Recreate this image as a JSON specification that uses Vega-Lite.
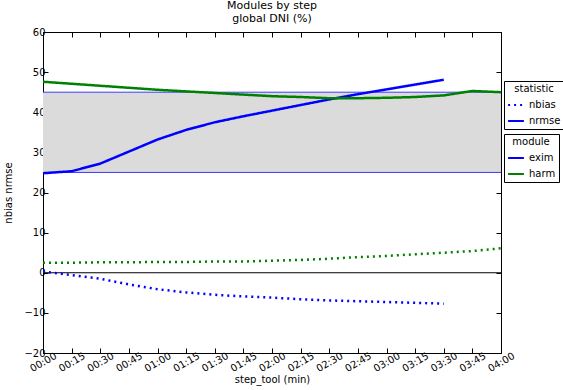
{
  "$schema": "https://vega.github.io/schema/vega-lite/v6.json",
  "autosize": "none",
  "width": 458,
  "height": 321,
  "padding": {"left": 43, "top": 32, "right": 62, "bottom": 37},
  "background": "white",
  "config": {
    "font": "DejaVu Sans",
    "view": {"stroke": "black", "strokeWidth": 1},
    "axis": {"grid": false, "domainColor": "black", "tickColor": "black", "labelColor": "black", "titleColor": "black", "labelFont": "DejaVu Sans", "titleFont": "DejaVu Sans", "labelFontSize": 10, "titleFontSize": 10, "titleFontWeight": "normal", "tickSize": -5, "labelOverlap": false, "labelFlush": false},
    "legend": {"labelFont": "DejaVu Sans", "titleFont": "DejaVu Sans", "labelFontSize": 10, "titleFontSize": 10, "titleFontWeight": "normal", "labelColor": "black", "titleColor": "black"}
  },
  "title": {"text": ["Modules by step", " global DNI (%)"], "fontSize": 11, "fontWeight": "normal", "font": "DejaVu Sans", "color": "black", "offset": 3, "anchor": "middle", "lineHeight": 13},
  "datasets": {
    "series": [
      {"minute": 0, "module": "exim", "statistic": "nrmse", "value": 24.8},
      {"minute": 15, "module": "exim", "statistic": "nrmse", "value": 25.3},
      {"minute": 30, "module": "exim", "statistic": "nrmse", "value": 27.2},
      {"minute": 45, "module": "exim", "statistic": "nrmse", "value": 30.2},
      {"minute": 60, "module": "exim", "statistic": "nrmse", "value": 33.2},
      {"minute": 75, "module": "exim", "statistic": "nrmse", "value": 35.6},
      {"minute": 90, "module": "exim", "statistic": "nrmse", "value": 37.5},
      {"minute": 105, "module": "exim", "statistic": "nrmse", "value": 39.0},
      {"minute": 120, "module": "exim", "statistic": "nrmse", "value": 40.4},
      {"minute": 135, "module": "exim", "statistic": "nrmse", "value": 41.8},
      {"minute": 150, "module": "exim", "statistic": "nrmse", "value": 43.2},
      {"minute": 165, "module": "exim", "statistic": "nrmse", "value": 44.5},
      {"minute": 180, "module": "exim", "statistic": "nrmse", "value": 45.7},
      {"minute": 195, "module": "exim", "statistic": "nrmse", "value": 46.9},
      {"minute": 210, "module": "exim", "statistic": "nrmse", "value": 48.1},
      {"minute": 0, "module": "harm", "statistic": "nrmse", "value": 47.6},
      {"minute": 15, "module": "harm", "statistic": "nrmse", "value": 47.1},
      {"minute": 30, "module": "harm", "statistic": "nrmse", "value": 46.6},
      {"minute": 45, "module": "harm", "statistic": "nrmse", "value": 46.1},
      {"minute": 60, "module": "harm", "statistic": "nrmse", "value": 45.6},
      {"minute": 75, "module": "harm", "statistic": "nrmse", "value": 45.2},
      {"minute": 90, "module": "harm", "statistic": "nrmse", "value": 44.8},
      {"minute": 105, "module": "harm", "statistic": "nrmse", "value": 44.4},
      {"minute": 120, "module": "harm", "statistic": "nrmse", "value": 44.0},
      {"minute": 135, "module": "harm", "statistic": "nrmse", "value": 43.8},
      {"minute": 150, "module": "harm", "statistic": "nrmse", "value": 43.5},
      {"minute": 165, "module": "harm", "statistic": "nrmse", "value": 43.5},
      {"minute": 180, "module": "harm", "statistic": "nrmse", "value": 43.6},
      {"minute": 195, "module": "harm", "statistic": "nrmse", "value": 43.8},
      {"minute": 210, "module": "harm", "statistic": "nrmse", "value": 44.2},
      {"minute": 225, "module": "harm", "statistic": "nrmse", "value": 45.3},
      {"minute": 240, "module": "harm", "statistic": "nrmse", "value": 45.0},
      {"minute": 0, "module": "exim", "statistic": "nbias", "value": 0.3},
      {"minute": 15, "module": "exim", "statistic": "nbias", "value": -0.6},
      {"minute": 30, "module": "exim", "statistic": "nbias", "value": -1.5},
      {"minute": 45, "module": "exim", "statistic": "nbias", "value": -2.9},
      {"minute": 60, "module": "exim", "statistic": "nbias", "value": -4.1},
      {"minute": 75, "module": "exim", "statistic": "nbias", "value": -4.9},
      {"minute": 90, "module": "exim", "statistic": "nbias", "value": -5.5},
      {"minute": 105, "module": "exim", "statistic": "nbias", "value": -5.9},
      {"minute": 120, "module": "exim", "statistic": "nbias", "value": -6.2},
      {"minute": 135, "module": "exim", "statistic": "nbias", "value": -6.6},
      {"minute": 150, "module": "exim", "statistic": "nbias", "value": -6.9},
      {"minute": 165, "module": "exim", "statistic": "nbias", "value": -7.1},
      {"minute": 180, "module": "exim", "statistic": "nbias", "value": -7.3},
      {"minute": 195, "module": "exim", "statistic": "nbias", "value": -7.5},
      {"minute": 210, "module": "exim", "statistic": "nbias", "value": -7.7},
      {"minute": 0, "module": "harm", "statistic": "nbias", "value": 2.5},
      {"minute": 15, "module": "harm", "statistic": "nbias", "value": 2.5},
      {"minute": 30, "module": "harm", "statistic": "nbias", "value": 2.6},
      {"minute": 45, "module": "harm", "statistic": "nbias", "value": 2.6},
      {"minute": 60, "module": "harm", "statistic": "nbias", "value": 2.7},
      {"minute": 75, "module": "harm", "statistic": "nbias", "value": 2.7},
      {"minute": 90, "module": "harm", "statistic": "nbias", "value": 2.8},
      {"minute": 105, "module": "harm", "statistic": "nbias", "value": 2.8},
      {"minute": 120, "module": "harm", "statistic": "nbias", "value": 3.0},
      {"minute": 135, "module": "harm", "statistic": "nbias", "value": 3.2},
      {"minute": 150, "module": "harm", "statistic": "nbias", "value": 3.5},
      {"minute": 165, "module": "harm", "statistic": "nbias", "value": 3.9},
      {"minute": 180, "module": "harm", "statistic": "nbias", "value": 4.2},
      {"minute": 195, "module": "harm", "statistic": "nbias", "value": 4.6},
      {"minute": 210, "module": "harm", "statistic": "nbias", "value": 5.0},
      {"minute": 225, "module": "harm", "statistic": "nbias", "value": 5.4},
      {"minute": 240, "module": "harm", "statistic": "nbias", "value": 6.1}
    ],
    "band": [{"lo": 25, "hi": 45}],
    "bounds": [{"v": 25}, {"v": 45}],
    "zero": [{"v": 0}]
  },
  "layer": [
    {
      "data": {"name": "band"},
      "mark": {"type": "rect", "fill": "#dbdbdb"},
      "encoding": {
        "y": {"field": "lo", "type": "quantitative", "scale": {"domain": [-20, 60], "nice": false}, "axis": {"orient": "left", "values": [-20, -10, 0, 10, 20, 30, 40, 50, 60], "title": "nbias nrmse", "titlePadding": 10, "labelPadding": 3}},
        "y2": {"field": "hi"}
      }
    },
    {
      "data": {"name": "bounds"},
      "mark": {"type": "rule", "color": "#3a3aff", "strokeWidth": 1},
      "encoding": {"y": {"field": "v", "type": "quantitative", "axis": null}}
    },
    {
      "data": {"name": "zero"},
      "mark": {"type": "rule", "color": "black", "strokeWidth": 1},
      "encoding": {"y": {"field": "v", "type": "quantitative", "axis": null}}
    },
    {
      "data": {"name": "series"},
      "mark": {"type": "line", "strokeWidth": 2.5, "clip": true},
      "encoding": {
        "x": {"field": "minute", "type": "quantitative", "scale": {"domain": [0, 240], "nice": false, "zero": false},
          "axis": {"orient": "bottom", "values": [0, 15, 30, 45, 60, 75, 90, 105, 120, 135, 150, 165, 180, 195, 210, 225, 240],
            "labelExpr": "pad(floor(datum.value/60), 2, '0', 'left') + ':' + pad(datum.value % 60, 2, '0', 'left')",
            "labelAngle": -30, "labelAlign": "center", "labelBaseline": "middle", "labelPadding": 14, "title": "step_tool (min)", "titlePadding": 1}},
        "y": {"field": "value", "type": "quantitative", "axis": null},
        "color": {"field": "module", "type": "nominal", "scale": {"domain": ["exim", "harm"], "range": ["#0000ff", "#008000"]},
          "legend": {"orient": "none", "legendX": 461, "legendY": 102, "title": "module", "titleAnchor": "middle", "symbolType": "stroke", "symbolStrokeWidth": 2, "symbolSize": 250, "strokeColor": "black", "fillColor": "white", "padding": 3, "rowPadding": 2, "titlePadding": 2}},
        "strokeDash": {"field": "statistic", "type": "nominal", "scale": {"domain": ["nbias", "nrmse"], "range": [[2, 4], [1, 0]]},
          "legend": {"orient": "none", "legendX": 461, "legendY": 49, "title": "statistic", "titleAnchor": "middle", "symbolStrokeColor": "#0000ff", "symbolStrokeWidth": 2, "symbolType": "stroke", "symbolSize": 250, "strokeColor": "black", "fillColor": "white", "padding": 3, "rowPadding": 2, "titlePadding": 2}},
        "detail": {"field": "module"}
      }
    },
    {
      "data": {"name": "zero"},
      "mark": {"type": "rule", "opacity": 0},
      "encoding": {
        "y": {"field": "v", "type": "quantitative", "axis": {"orient": "right", "labels": false, "title": null, "values": [-20, -10, 0, 10, 20, 30, 40, 50, 60], "domain": false, "tickSize": -5}},
        "x": {"datum": 0, "type": "quantitative", "axis": {"orient": "top", "labels": false, "title": null, "values": [0, 15, 30, 45, 60, 75, 90, 105, 120, 135, 150, 165, 180, 195, 210, 225, 240], "domain": false, "tickSize": -5}}
      }
    }
  ],
  "resolve": {"axis": {"x": "independent", "y": "independent"}}
}
